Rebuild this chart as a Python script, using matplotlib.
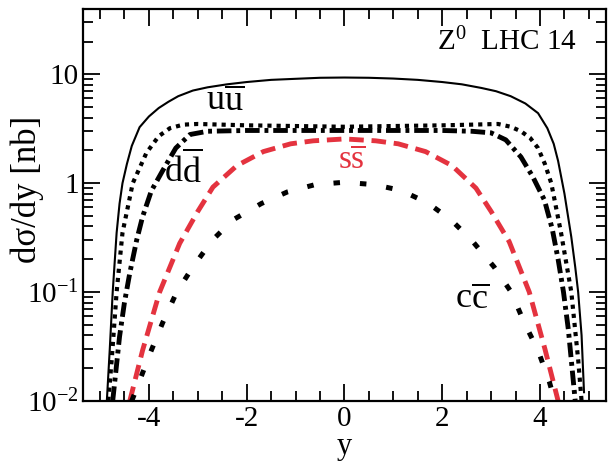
import numpy as np
import matplotlib
matplotlib.use("Agg")
import matplotlib.pyplot as plt
from matplotlib.ticker import FixedLocator, FuncFormatter, LogLocator, NullFormatter

plt.rcParams["font.family"] = ["Liberation Serif", "DejaVu Serif"]
plt.rcParams["mathtext.fontset"] = "custom"
plt.rcParams["mathtext.rm"] = "Liberation Serif"
plt.rcParams["mathtext.it"] = "Liberation Serif:italic"

# total (solid)
y_tot = [-4.86, -4.8, -4.74, -4.66, -4.6, -4.54, -4.45, -4.35, -4.19, -4.0, -3.8, -3.6, -3.4, -3.1,
         -2.8, -2.4, -2.0, -1.5, -1.0, -0.5, 0.0, 0.5, 1.0, 1.5, 2.0, 2.4, 2.8, 3.1, 3.4,
         3.7, 3.96, 4.15, 4.28, 4.37, 4.5, 4.64, 4.72, 4.78, 4.85, 4.9]
v_tot = [0.01, 0.03, 0.1, 0.35, 0.65, 1.0, 1.5, 2.2, 3.27, 4.1, 4.9, 5.6, 6.3, 7.1,
         7.6, 8.1, 8.5, 8.9, 9.1, 9.3, 9.35, 9.3, 9.15, 8.9, 8.5, 8.1, 7.5, 7.0, 6.3,
         5.4, 4.4, 3.2, 2.3, 1.6, 0.8, 0.32, 0.17, 0.1, 0.04, 0.012]

# u ubar (dotted)
y_uu = [-4.83, -4.76, -4.66, -4.54, -4.33, -4.05, -3.8, -3.57, -3.3, -3.0, -2.5, -2.0, -1.0,
        0.0, 1.0, 2.0, 2.6, 3.14, 3.4, 3.61, 3.8, 3.96, 4.1, 4.23, 4.43, 4.64, 4.78, 4.85]
v_uu = [0.01, 0.024, 0.1, 0.35, 1.0, 1.9, 2.7, 3.2, 3.45, 3.5, 3.45, 3.4, 3.35,
        3.3, 3.35, 3.4, 3.45, 3.5, 3.3, 3.0, 2.6, 2.1, 1.5, 1.0, 0.35, 0.1, 0.024, 0.01]

# d dbar (dash-dot)
y_dd = [-4.74, -4.6, -4.5, -4.39, -4.25, -4.13, -3.95, -3.72, -3.45, -3.16, -2.8, -2.0, -1.0,
        0.0, 1.0, 2.0, 2.6, 3.0, 3.3, 3.61, 3.85, 4.09, 4.25, 4.37, 4.48, 4.58, 4.72]
v_dd = [0.01, 0.039, 0.08, 0.15, 0.3, 0.49, 0.85, 1.3, 2.1, 2.8, 3.0, 3.05, 3.05,
        3.05, 3.05, 3.05, 3.0, 2.9, 2.5, 1.74, 1.15, 0.7, 0.38, 0.2, 0.1, 0.045, 0.01]

# s sbar (red dashed)
y_ss = [-4.39, -4.13, -3.78, -3.37, -3.0, -2.69, -2.2, -1.66, -1.1, -0.64, 0.0, 0.64, 1.1,
        1.66, 2.2, 2.69, 3.0, 3.37, 3.78, 4.1, 4.37]
v_ss = [0.01, 0.029, 0.1, 0.28, 0.55, 0.92, 1.45, 1.95, 2.3, 2.45, 2.55, 2.45, 2.3,
        1.95, 1.45, 0.9, 0.55, 0.29, 0.1, 0.03, 0.01]

# c cbar (sparse dots)
y_cc = [-4.35, -4.25, -3.98, -3.72, -3.43, -3.1, -2.7, -2.28, -1.7, -1.17, -0.6, 0.0, 0.6,
        1.15, 1.7, 2.18, 2.6, 3.06, 3.41, 3.68, 3.96, 4.19, 4.3]
v_cc = [0.01, 0.013, 0.027, 0.052, 0.1, 0.17, 0.3, 0.46, 0.65, 0.83, 0.97, 1.02, 0.97,
        0.86, 0.66, 0.46, 0.3, 0.17, 0.1, 0.052, 0.029, 0.015, 0.01]

red = "#e4333f"

fig = plt.figure(figsize=(6.14, 4.65), dpi=100)
ax = fig.add_axes([0.135, 0.138, 0.852, 0.843])

ax.plot(y_tot, v_tot, color="black", lw=1.5)
ax.plot(y_uu, v_uu, color="black", lw=3.0, dashes=(1, 1.2))
ax.plot(y_dd, v_dd, color="black", lw=3.5, dashes=(3, 1, 0.8, 1))
ax.plot(y_ss, v_ss, color=red, lw=3.5, dashes=(3, 1.6))
ax.plot(y_cc, v_cc, color="black", lw=3.6, dashes=(1.3, 4))

ax.set_yscale("log")
ax.set_xlim(-5.35, 5.35)
ax.set_ylim(0.01, 40)

ax.xaxis.set_major_locator(FixedLocator([-4, -2, 0, 2, 4]))
ax.xaxis.set_minor_locator(FixedLocator(np.arange(-5, 5.01, 0.5)))
ax.yaxis.set_major_locator(FixedLocator([0.01, 0.1, 1, 10]))
ax.yaxis.set_minor_locator(LogLocator(base=10, subs=np.arange(2, 10)))
ax.yaxis.set_minor_formatter(NullFormatter())


def ylab(v, pos):
    if v >= 1:
        return "%d" % v
    return r"$10^{%d}$" % int(round(np.log10(v)))


ax.yaxis.set_major_formatter(FuncFormatter(ylab))
ax.xaxis.set_major_formatter(FuncFormatter(lambda v, p: "%d" % v))

ax.tick_params(which="both", direction="in", top=True, right=True, labelsize=21, width=1.3)
ax.tick_params(which="major", length=12)
ax.tick_params(which="minor", length=7)
ax.tick_params(axis="x", pad=4)
ax.tick_params(axis="y", pad=3)
for s in ax.spines.values():
    s.set_linewidth(1.6)

ax.set_xlabel("y", fontsize=22, labelpad=0)
ax.set_ylabel("dσ/dy [nb]", fontsize=25)
ax.yaxis.set_label_coords(-0.075, 0.54)

ax.text(4.75, 20, r"Z$^0$  LHC 14", fontsize=21, ha="right", va="center")
ax.text(-2.45, 5.6, r"$\mathrm{u\overline{u}}$", fontsize=26, ha="center", va="center")
ax.text(-3.3, 1.3, r"$\mathrm{d\overline{d}}$", fontsize=26, ha="center", va="center")
ax.text(0.16, 1.6, r"$\mathrm{s\overline{s}}$", fontsize=24, ha="center", va="center", color=red)
ax.text(2.6, 0.085, r"$\mathrm{c\overline{c}}$", fontsize=26, ha="center", va="center")

fig.savefig("out.png", dpi=100)
